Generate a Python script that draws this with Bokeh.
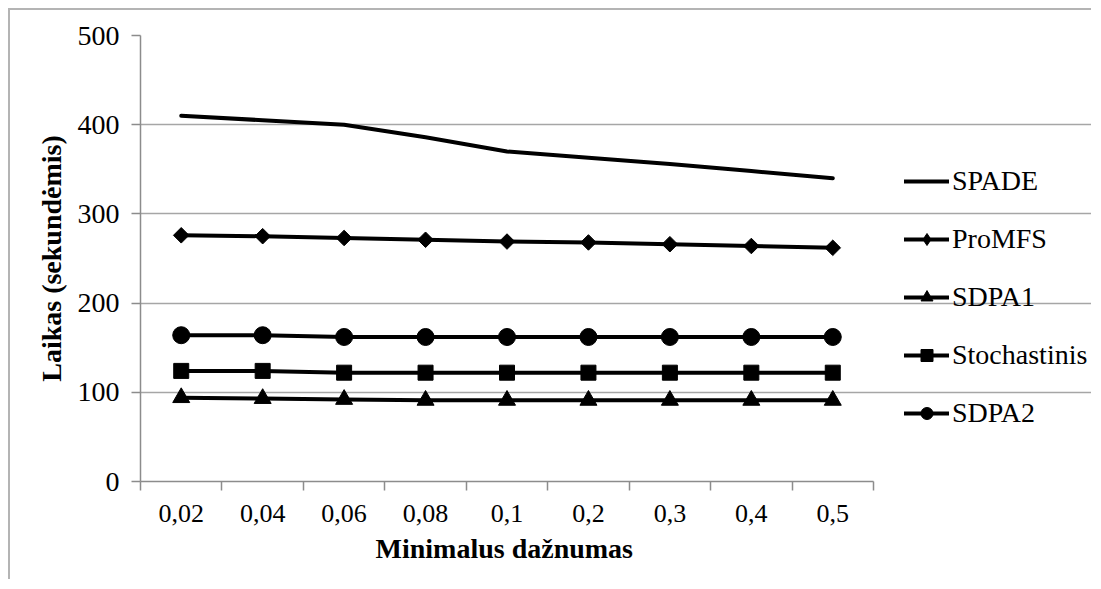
import numpy as np
from bokeh.plotting import figure
from bokeh.models import Range1d, FixedTicker, Legend, LegendItem, ColumnDataSource, Title
from bokeh.embed import file_html
from bokeh.resources import INLINE

# ---- data ----
categories = ["0,02", "0,04", "0,06", "0,08", "0,1", "0,2", "0,3", "0,4", "0,5"]
spade = [410, 405, 400, 386, 370, 363, 356, 348, 340]
promfs = [276, 275, 273, 271, 269, 268, 266, 264, 262]
sdpa1 = [94, 93, 92, 91, 91, 91, 91, 91, 91]
stochastinis = [124, 124, 122, 122, 122, 122, 122, 122, 122]
sdpa2 = [164, 164, 162, 162, 162, 162, 162, 162, 162]
y_ticks = [0, 100, 200, 300, 400, 500]
x_title = "Minimalus dažnumas"
y_title = "Laikas (sekundėmis)"

FONT = "'Liberation Serif', 'Times New Roman', 'DejaVu Serif', serif"
GRID = "#a6a6a6"
AXIS = "#8c8c8c"

n = len(categories)
xs = [i + 0.5 for i in range(n)]

# frame spans to the right edge so that the legend (drawn inside it) is not clipped;
# the data area (0..n) occupies the left 733 px of the 953 px wide frame
PLOT_W, FRAME_W, DATA_W = 1083, 953, 733
x_end = n * FRAME_W / DATA_W

p = figure(width=PLOT_W, height=571, output_backend="svg", toolbar_location=None,
           x_range=Range1d(0, x_end), y_range=Range1d(0, 500),
           min_border_left=130, min_border_right=0, min_border_top=25, min_border_bottom=100)
p.styles = {"border-top": "2px solid #b4b4b4", "border-left": "2px solid #b4b4b4",
            "margin-left": "8px", "margin-top": "8px"}
p.outline_line_color = None
p.background_fill_color = "white"
p.border_fill_color = "white"

# x axis: labels at centers, ticks at boundaries
p.xaxis.ticker = FixedTicker(ticks=xs, minor_ticks=list(range(n + 1)))
p.xaxis.major_label_overrides = {x: c for x, c in zip(xs, categories)}
p.xaxis.bounds = (0, n)
p.xaxis.major_tick_out = 0
p.xaxis.major_tick_in = 0
p.xaxis.minor_tick_out = 9
p.xaxis.minor_tick_in = 0
p.xaxis.minor_tick_line_color = AXIS
p.xaxis.axis_line_color = AXIS
p.xaxis.axis_line_width = 1.5
p.xaxis.minor_tick_line_width = 1.5
p.xaxis.major_label_standoff = 14
p.xaxis.major_label_text_font = FONT
p.xaxis.major_label_text_font_size = "26px"
p.xaxis.major_label_text_color = "black"
p.xgrid.visible = False

# x-axis title centred under the data area (not the whole frame)
xt = Title(text=x_title, align="left", offset=235, standoff=12,
           text_font=FONT, text_font_size="28px", text_font_style="bold", text_color="black")
p.add_layout(xt, "below")

p.yaxis.ticker = FixedTicker(ticks=y_ticks)
p.yaxis.major_tick_out = 9
p.yaxis.major_tick_in = 0
p.yaxis.minor_tick_out = 0
p.yaxis.minor_tick_in = 0
p.yaxis.major_tick_line_color = AXIS
p.yaxis.major_tick_line_width = 1.5
p.yaxis.axis_line_color = AXIS
p.yaxis.axis_line_width = 1.5
p.yaxis.major_label_standoff = 12
p.yaxis.axis_label = y_title
p.yaxis.axis_label_standoff = 8
p.yaxis.major_label_text_font = FONT
p.yaxis.major_label_text_font_size = "28px"
p.yaxis.major_label_text_color = "black"
p.yaxis.axis_label_text_font = FONT
p.yaxis.axis_label_text_font_size = "28px"
p.yaxis.axis_label_text_font_style = "bold"
p.yaxis.axis_label_text_color = "black"
p.ygrid.grid_line_color = GRID
p.ygrid.grid_line_width = 1.5
p.ygrid.bounds = (0, n)

series = [
    ("SPADE", spade, None, 0),
    ("ProMFS", promfs, "diamond", 11),
    ("SDPA1", sdpa1, "triangle", 17),
    ("Stochastinis", stochastinis, "square", 15),
    ("SDPA2", sdpa2, "circle", 17),
]

items = []
for name, vals, marker, size in series:
    src = ColumnDataSource(dict(x=xs, y=vals))
    rs = [p.line("x", "y", source=src, line_color="black", line_width=4,
                 line_join="round", line_cap="round")]
    if marker == "diamond":
        # plot: rotated square (Excel-style diamond); legend: diamond marker stand-in
        p.scatter("x", "y", source=src, marker="square", size=size, angle=np.pi / 4,
                  fill_color="black", line_color="black")
        dummy = ColumnDataSource(dict(x=[np.nan], y=[np.nan]))
        rs.append(p.scatter("x", "y", source=dummy, marker="diamond", size=17,
                            fill_color="black", line_color="black"))
    elif marker is not None:
        rs.append(p.scatter("x", "y", source=src, marker=marker, size=size,
                            fill_color="black", line_color="black"))
    items.append(LegendItem(label=name, renderers=rs))

legend = Legend(items=items, location=(764, 52))
legend.label_text_font = FONT
legend.label_text_font_size = "28px"
legend.label_text_color = "black"
legend.glyph_width = 45
legend.glyph_height = 30
legend.label_height = 30
legend.spacing = 26
legend.label_standoff = 3
legend.padding = 0
legend.margin = 0
legend.border_line_color = None
legend.background_fill_alpha = 0
p.add_layout(legend, "center")

open("out.html", "w").write(file_html(p, INLINE))
